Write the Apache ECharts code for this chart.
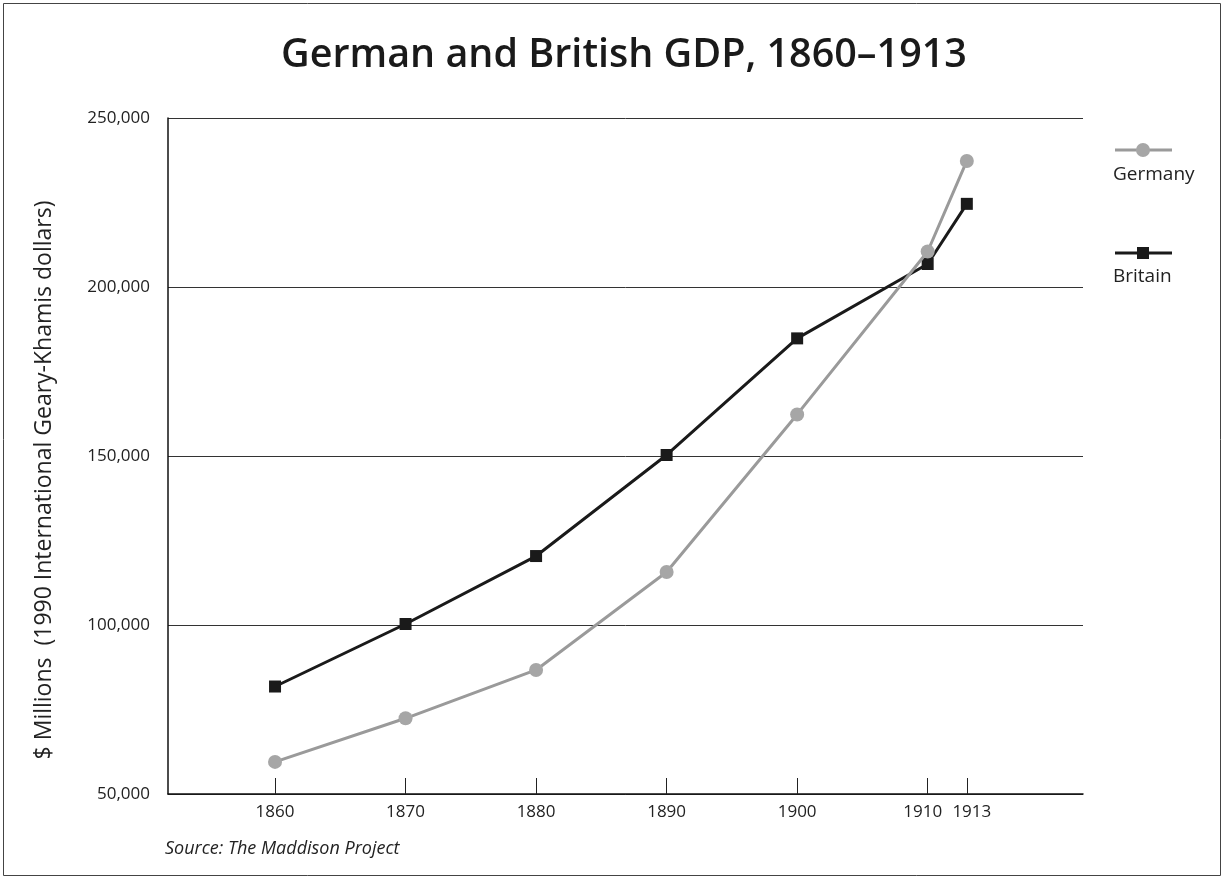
<!DOCTYPE html>
<html>
<head>
<meta charset="utf-8">
<title>German and British GDP, 1860–1913</title>
<script src="https://cdn.jsdelivr.net/npm/echarts@6/dist/echarts.min.js"></script>
<style>
  html, body { margin: 0; padding: 0; background: #fff; }
  #chart { width: 1225px; height: 880px; }
</style>
</head>
<body>
<div id="chart"></div>
<script>
// data ($ millions, 1990 GK dollars)
const years = [1860, 1870, 1880, 1890, 1900, 1910, 1913];
const germany = [59500, 72400, 86700, 115700, 162300, 210500, 237300];
const britain = [81800, 100300, 120400, 150300, 184800, 206800, 224600];
const yTicks = [50000, 100000, 150000, 200000, 250000];

const font = '"Open Sans", sans-serif';
const chart = echarts.init(document.getElementById('chart'));

// pair up years with values for the value x axis
const pairs = (vals) => years.map((y, i) => [y, vals[i]]);

chart.setOption({
  backgroundColor: '#fff',
  animation: false,
  title: {
    text: 'German and British GDP, 1860–1913',
    left: 276,
    top: 31,
    textStyle: { fontFamily: font, fontWeight: 600, fontSize: 39.5, color: '#1a1a1a' }
  },
  grid: { left: 168, right: 142, top: 118, bottom: 86 },
  xAxis: {
    type: 'value',
    min: 1851.8,
    max: 1921.9,
    splitLine: { show: false },
    axisLine: { lineStyle: { color: '#111', width: 1.5 } },
    axisTick: { inside: true, length: 16, customValues: years, lineStyle: { color: '#222', width: 1 } },
    axisLabel: {
      customValues: years,
      hideOverlap: false,
      margin: 10,
      fontFamily: font,
      fontSize: 17,
      color: '#222',
      // 1910 and 1913 sit close together, nudge them apart a little
      formatter: (v) => v === 1910 ? '{l|' + v + '}' : v === 1913 ? '{r|' + v + '}' : String(v),
      rich: {
        l: { fontFamily: font, fontSize: 17, color: '#222', padding: [0, 10, 0, 0] },
        r: { fontFamily: font, fontSize: 17, color: '#222', padding: [0, 0, 0, 10] }
      }
    }
  },
  yAxis: {
    type: 'value',
    min: yTicks[0],
    max: yTicks[yTicks.length - 1],
    interval: 50000,
    name: '$ Millions  (1990 International Geary-Khamis dollars)',
    nameLocation: 'middle',
    nameGap: 112,
    nameTextStyle: { fontFamily: font, fontSize: 23, color: '#222', padding: [0, 48, 0, 0] },
    axisLine: { show: true, lineStyle: { color: '#111', width: 1.5 } },
    axisTick: { show: false },
    splitLine: { lineStyle: { color: '#333', width: 1 } },
    axisLabel: { margin: 18, fontFamily: font, fontSize: 17, color: '#222' }
  },
  series: [
    {
      name: 'Germany',
      type: 'line',
      data: pairs(germany),
      symbol: 'circle',
      symbolSize: 14,
      lineStyle: { color: '#9a9a9a', width: 3 },
      itemStyle: { color: '#a6a6a6' },
      z: 3
    },
    {
      name: 'Britain',
      type: 'line',
      data: pairs(britain),
      symbol: 'rect',
      symbolSize: 12,
      lineStyle: { color: '#1a1a1a', width: 3 },
      itemStyle: { color: '#1a1a1a' },
      z: 2
    }
  ],
  graphic: [
    // outer frame
    { type: 'rect', shape: { x: 3.5, y: 3.5, width: 1217, height: 872 }, style: { fill: 'none', stroke: '#444', lineWidth: 1 }, silent: true },
    // legend: Germany
    { type: 'line', shape: { x1: 1115, y1: 150, x2: 1172, y2: 150 }, style: { stroke: '#9a9a9a', lineWidth: 3 } },
    { type: 'circle', shape: { cx: 1143, cy: 150, r: 7 }, style: { fill: '#a6a6a6' } },
    { type: 'text', left: 1113, top: 165, style: { text: 'Germany', font: '19px ' + font, fill: '#222' } },
    // legend: Britain
    { type: 'line', shape: { x1: 1115, y1: 253, x2: 1172, y2: 253 }, style: { stroke: '#1a1a1a', lineWidth: 3 } },
    { type: 'rect', shape: { x: 1137, y: 247, width: 12, height: 12 }, style: { fill: '#1a1a1a' } },
    { type: 'text', left: 1113, top: 267, style: { text: 'Britain', font: '19px ' + font, fill: '#222' } },
    // source note
    { type: 'text', left: 165, top: 840, style: { text: 'Source: The Maddison Project', font: 'italic 18px ' + font, fill: '#222' } }
  ]
});
</script>
</body>
</html>
